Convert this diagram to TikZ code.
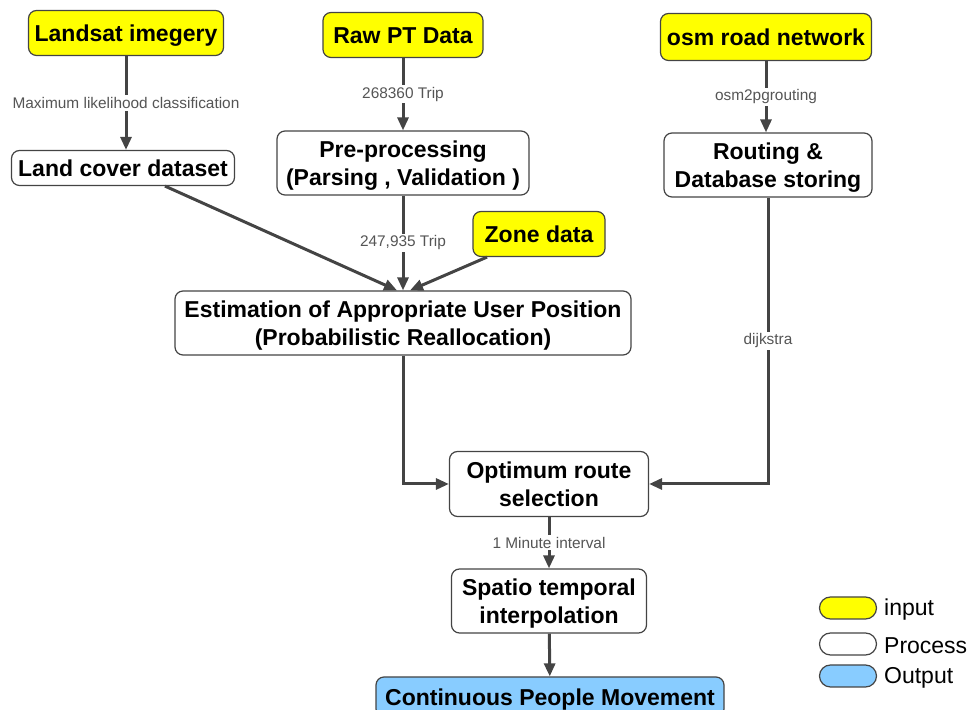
\documentclass[tikz,border=0pt]{standalone}
\usepackage{fontspec}
\setmainfont{Liberation Sans}
\usepackage{xcolor}
\usepackage{tikz}
\usetikzlibrary{arrows.meta,positioning}
\definecolor{inputyellow}{HTML}{FFFF00}
\definecolor{outputblue}{HTML}{88CCFF}
\definecolor{linegray}{HTML}{444444}
\definecolor{labelgray}{HTML}{555555}

\begin{document}
\begin{tikzpicture}[x=0.5pt, y=-0.5pt,
    box/.style={rectangle, draw=linegray, line width=0.6pt, rounded corners=4pt, inner sep=0pt, align=center, text depth=0pt, font=\fontsize{11.5}{14}\selectfont\bfseries},
    oneline/.style={text height=9pt},
    inbox/.style={box, oneline, fill=inputyellow},
    procbox/.style={box, fill=white},
    outbox/.style={box, oneline, fill=outputblue},
    arrow/.style={-{Triangle[length=6.5pt,width=5.5pt]}, line width=1.5pt, linegray},
    lbl/.style={fill=white, inner sep=1pt, text=labelgray, font=\fontsize{7.7}{9}\selectfont},
    key/.style={draw=linegray, line width=0.6pt, rounded corners=5.5pt, minimum width=28.5pt, minimum height=11pt, inner sep=0pt},
    keytext/.style={font=\fontsize{11.5}{14}\selectfont, yshift=-1pt}
]
\useasboundingbox (0,0) rectangle (971,710);
\node[inbox, minimum width=97.5pt, minimum height=22.5pt] (landsat) at (126,33) {Landsat imegery};
\node[inbox, minimum width=80pt, minimum height=22.5pt] (rawpt) at (403,35) {Raw PT Data};
\node[inbox, minimum width=105.5pt, minimum height=23.5pt] (osm) at (766,37) {osm road network};
\node[procbox, oneline, minimum width=111.5pt, minimum height=17.5pt] (landcover) at (123,168) {Land cover dataset};
\node[procbox, minimum width=126pt, minimum height=32pt] (prep) at (403,163) {Pre-processing\\(Parsing , Validation )};
\node[procbox, minimum width=104pt, minimum height=32pt] (routing) at (768,165) {Routing \&\\Database storing};
\node[inbox, minimum width=66pt, minimum height=22.5pt] (zone) at (539,234) {Zone data};
\node[procbox, minimum width=228pt, minimum height=32pt] (estim) at (403,323) {Estimation of Appropriate User Position\\(Probabilistic Reallocation)};
\node[procbox, minimum width=99.5pt, minimum height=32.5pt] (optim) at (549,484) {Optimum route\\selection};
\node[procbox, minimum width=97.5pt, minimum height=32pt] (spatio) at (549,601) {Spatio temporal\\interpolation};
\node[outbox, minimum width=174pt, minimum height=20pt] (contin) at (550,697) {Continuous People Movement};

\node[key, fill=inputyellow] (keyin) at (848,608) {};
\node[keytext, right=0pt of keyin] (keyintext) {input};
\node[key, fill=white] (keyproc) at (848,644) {};
\node[keytext, right=0pt of keyproc] (keyproctext) {Process};
\node[key, fill=outputblue] (keyout) at (848,676) {};
\node[keytext, right=0pt of keyout] (keyouttext) {Output};

\draw[arrow] (landsat.south) -- node[lbl] {Maximum likelihood classification} (landsat.south |- landcover.north);
\draw[arrow] (rawpt) -- node[lbl] {268360 Trip} (prep);
\draw[arrow] (osm.south) -- node[lbl] {osm2pgrouting} (osm.south |- routing.north);
\draw[arrow] ([xshift=21pt]landcover.south) -- ([xshift=-3pt]estim.north);
\draw[arrow] (prep) -- node[lbl] {247,935 Trip} (estim);
\draw[arrow] ([xshift=-26pt]zone.south) -- ([xshift=3.5pt]estim.north);
\draw[arrow] (estim.south) |- (optim.west);
\draw[arrow] (routing.south) |- node[lbl, pos=0.25] {dijkstra} (optim.east);
\draw[arrow] (optim) -- node[lbl] {1 Minute interval} (spatio);
\draw[arrow] (spatio) -- (contin);
\end{tikzpicture}
\end{document}
